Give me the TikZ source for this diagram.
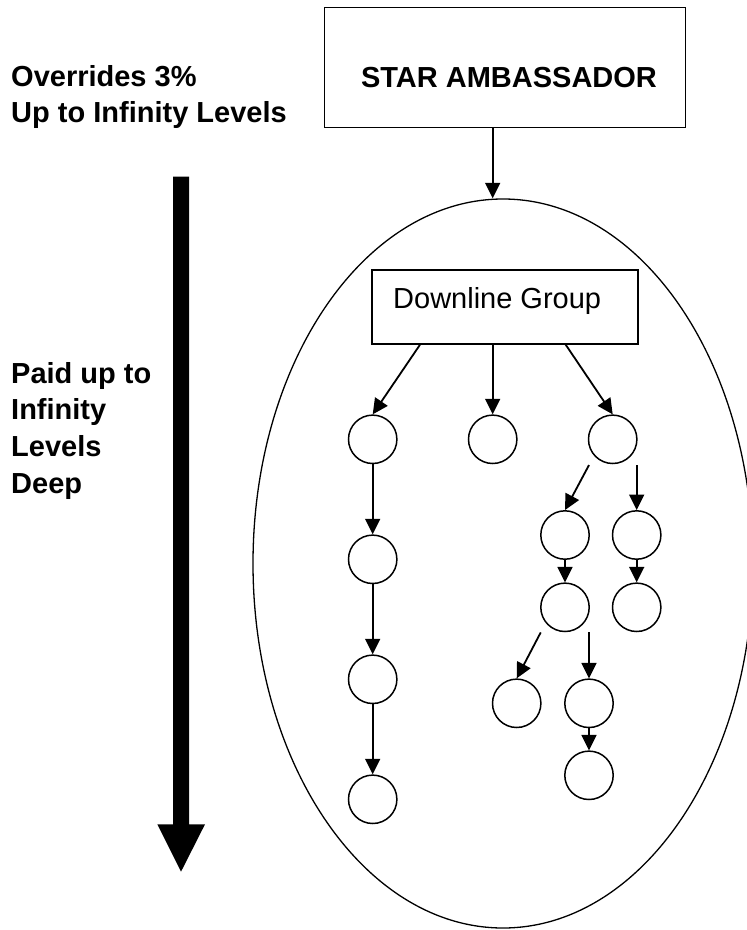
\documentclass[tikz,border=0pt]{standalone}
\usepackage{fontspec}
\setmainfont{Liberation Sans}
\usetikzlibrary{arrows.meta,shapes.geometric}
\begin{document}
\begin{tikzpicture}[x=1pt,y=-1pt,
  box/.style={draw, line width=1.4pt, inner sep=0pt},
  nd/.style={draw, circle, line width=1.5pt, minimum size=48.4pt, inner sep=0pt},
  arr/.style={line width=1.8pt, -{Triangle[length=15.5pt,width=15pt]}},
  txt/.style={font=\fontsize{29}{36.7}\selectfont, inner sep=0pt},
  btxt/.style={font=\fontsize{29}{36.7}\selectfont\bfseries, inner sep=0pt},
  ]
\useasboundingbox (0,0) rectangle (747,930);
\clip (0,0) rectangle (747,930);

% left texts
\node[btxt, anchor=north west, align=left] (ovr) at (11,65) {Overrides 3\%\\Up to Infinity Levels};
\node[btxt, anchor=north west, align=left] (paid) at (11,362) {Paid up to\\Infinity\\Levels\\Deep};

% big arrow
\fill (173,176.7) -- (189,176.7) -- (189,824.3) -- (205,824.3) -- (181,871.7)
      -- (157.3,824.3) -- (173,824.3) -- cycle;

% top box
\node[box, minimum width=360.6pt, minimum height=120pt] (star) at (505,67.3) {};
\node[btxt, anchor=base] (startxt) at (509,87) {STAR AMBASSADOR};

% group ellipse
\node[draw, ellipse, line width=1.3pt, minimum width=500pt, minimum height=729pt, inner sep=0pt] (grp) at (503,563.5) {};

\draw[arr] ([xshift=-12.3pt]star.south) -- ([xshift=-12.3pt]star.south |- grp.north);

% downline box
\node[box, minimum width=266pt, minimum height=74pt] (dg) at (505,307) {};
\node[txt, anchor=base west] (dgtxt) at (393,308) {Downline Group};

% circles
\node[nd] (A)  at (372.7,439.3) {};
\node[nd] (B)  at (492.7,439.3) {};
\node[nd] (C)  at (612.7,439.3) {};
\node[nd] (A2) at (372.7,559.3) {};
\node[nd] (A3) at (372.7,679.3) {};
\node[nd] (A4) at (372.7,799.3) {};
\node[nd] (D)  at (565,535) {};
\node[nd] (E)  at (636.7,535) {};
\node[nd] (F)  at (565,607.3) {};
\node[nd] (G)  at (636.7,607.3) {};
\node[nd] (H)  at (516.7,703.3) {};
\node[nd] (I)  at (589,703.3) {};
\node[nd] (J)  at (589,775.3) {};

% connectors
\draw[arr] ([xshift=-85pt]dg.south) -- (A.north);
\draw[arr] ([xshift=-12.3pt]dg.south) -- (B.north);
\draw[arr] ([xshift=60.7pt]dg.south) -- (C.north);
\draw[arr] (A.south) -- (A2.north);
\draw[arr] (A2.south) -- (A3.north);
\draw[arr] (A3.south) -- (A4.north);
\draw[arr] ([xshift=-23.7pt,yshift=-0.8pt]C.south) -- (D.north);
\draw[arr] ([xshift=24pt,yshift=-0.8pt]C.south) -- (E.north);
\draw[arr] (D.south) -- (F.north);
\draw[arr] (E.south) -- (G.north);
\draw[arr] ([xshift=-24.3pt,yshift=-0.2pt]F.south) -- (H.north);
\draw[arr] ([xshift=24pt,yshift=-0.2pt]F.south) -- (I.north);
\draw[arr] (I.south) -- (J.north);
\end{tikzpicture}
\end{document}
